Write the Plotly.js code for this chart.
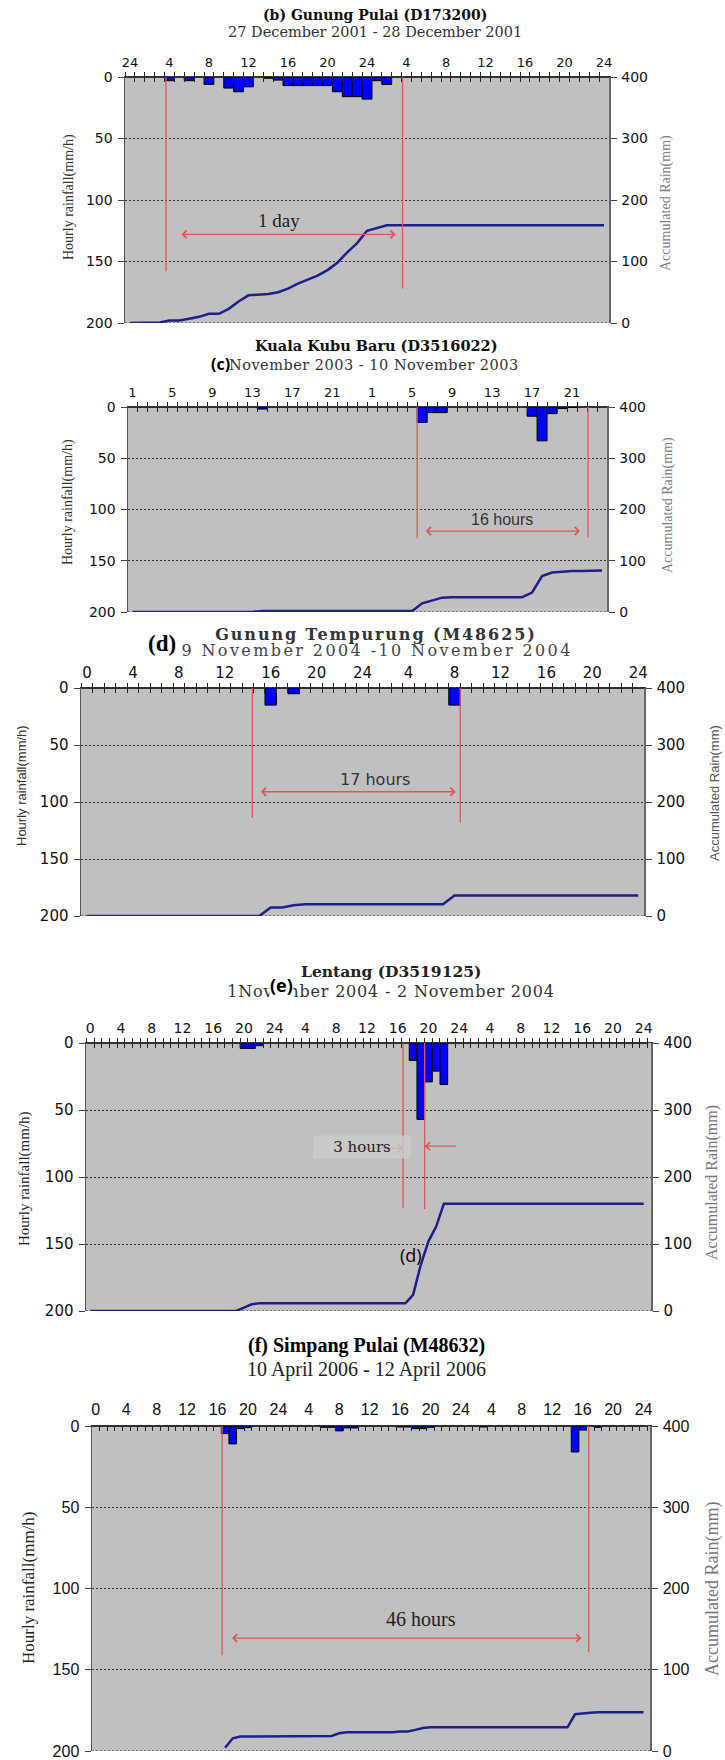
<!DOCTYPE html>
<html><head><meta charset="utf-8">
<script src="https://cdn.plot.ly/plotly-3.0.1.min.js"></script>
<style>
html,body{margin:0;padding:0;background:#fff}
#chart{width:725px;height:1760px}
.annotation[data-index="17"] text{letter-spacing:1.9px}
.annotation[data-index="18"] text{letter-spacing:2.4px}
.annotation[data-index="21"] text{letter-spacing:0.8px}
.annotation[data-index="15"] text{letter-spacing:0.5px}
</style>
</head><body><div id="chart"></div>
<script>
// ===================== DATA =====================
// (b) Gunung Pulai (D173200) — 27-28 Dec 2001, hourly index 0..48
const bTickText = ['24','4','8','12','16','20','24','4','8','12','16','20','24'];
const bRain  = [0,0,0,0,3,0,3,0,6,0,9,12,8,0,1,2.5,7,7,7,7,7,12,16,16,18,3,6,
                0,0,0,0,0,0,0,0,0,0,0,0,0,0,0,0,0,0,0,0,0,0];
const bAccum = [0,0,1,1,4,4,7,10,15,15,23,35,45,46,47,50,56,64,71,77,86,98,115,130,150,154,159,
                159,159,159,159,159,159,159,159,159,159,159,159,159,159,159,159,159,159,159,159,159,159];
const bMarkX = [3.65, 27.6];
const bMarkLen = [158, 172];
const bSpan = [5.06, 26.9, 128];

// (c) Kuala Kubu Baru (D3516022) — 9-10 Nov 2003, hourly index 0..47
const cTickText = ['1','5','9','13','17','21','1','5','9','13','17','21'];
const cRain  = [0,0,0,0,0,0,0,0,0,0,0,0,0,2,0,0,0,0,0,0,0,0,0,0,0,0,0,0,0,
                15,5.5,5.5,0,0,0,0,0,0,0,0,9,33,6.5,1.5,0.5,0,0,0];
const cAccum = [0,0,0,0,0,0,0,0,0,0,0,0,0,2,2,2,2,2,2,2,2,2,2,2,2,2,2,2,2,
                17,23,28,29,29,29,29,29,29,29,29,38,70,77,79,80,80,81,81];
const cMarkX = [28.5, 45.6];
const cMarkLen = [128, 127];
const cSpan = [29.2, 44.8, 121];

// (d) Gunung Tempurung (M48625) — 9-10 Nov 2004, hourly index 0..48
const dTickText = ['0','4','8','12','16','20','24','4','8','12','16','20','24'];
const dRain  = [0,0,0,0,0,0,0,0,0,0,0,0,0,0,0,0,15,0,5,0,0,0,0,0,0,0,0,0,0,0,0,0,15,
                0,0,0,0,0,0,0,0,0,0,0,0,0,0,0,0];
const dAccum = [0,0,0,0,0,0,0,0,0,0,0,0,0,0,0,0,15,15,19,20.5,20.5,20.5,20.5,20.5,20.5,20.5,20.5,20.5,20.5,20.5,20.5,20.5,36,
                36,36,36,36,36,36,36,36,36,36,36,36,36,36,36,36];
const dMarkX = [14.4, 32.5];
const dMarkLen = [114, 118];
const dSpan = [15.0, 32.1, 91];

// (e) Lentang (D3519125) — 1-2 Nov 2004, hourly index 0..72
const eTickText = ['0','4','8','12','16','20','24','4','8','12','16','20','24','4','8','12','16','20','24'];
const eRain  = [0,0,0,0,0,0,0,0,0,0,0,0,0,0,0,0,0,0,0,0,4,4,2,0,0,0,0,0,0,0,0,0,0,0,0,0,0,0,0,0,0,0,
                13,57,29,21,31,0,0,0,0,0,0,0,0,0,0,0,0,0,0,0,0,0,0,0,0,0,0,0,0,0,0];
const eAccum = [0,0,0,0,0,0,0,0,0,0,0,0,0,0,0,0,0,0,0,0,5,10,11.5,11.5,11.5,11.5,11.5,11.5,11.5,11.5,11.5,11.5,
                11.5,11.5,11.5,11.5,11.5,11.5,11.5,11.5,11.5,11.5,24,69,104,126,160,160,160,160,160,160,160,160,
                160,160,160,160,160,160,160,160,160,160,160,160,160,160,160,160,160,160,160];
const eMarkX = [40.7, 43.5];
const eMarkLen = [123, 124];
const eArrowL = [33.1, 40.7, 78.7];
const eArrowR = [47.8, 43.5, 77];

// (f) Simpang Pulai (M48632) — 10-12 Apr 2006, hourly index 0..72
const fTickText = ['0','4','8','12','16','20','24','4','8','12','16','20','24','4','8','12','16','20','24'];
const fRain  = [0,0,0,0,0,0,0,0,0,0,0,0,0,0,0,0,0,4.7,11,1.6,1,0,0,0,0,0,0,0,0,0,0.8,0.8,3,1.2,1.2,0,0,0,0,0,
                0.6,0.6,1.6,1.6,0.8,0,0,0,0,0,0,0.6,0,0,0,0,0,0,0,0,0,0,0,16,2.5,0,0.8,0,0,0,0,0,0];
const fAccum = [null,null,null,null,null,null,null,null,null,null,null,null,null,null,null,null,null,
                4,15.6,17.7,17.7,17.7,17.7,17.7,17.7,17.7,17.7,17.7,17.7,17.7,17.7,18.5,21.8,23,23,23,23,23,23,23,
                24,24,26,28.4,29.2,29.2,29.2,29.2,29.2,29.2,29.2,29.2,29.2,29.2,29.2,29.2,29.2,29.2,29.2,29.2,29.2,29.2,29.2,
                45.2,46.5,47,47.7,47.7,47.7,47.7,47.7,47.7,47.7];
const fMarkX = [16.6, 64.8];
const fMarkLen = [141, 139];
const fSpan = [17.7, 63.85, 130.5];

const leftTicks = [0,50,100,150,200];
const rightTicks = [0,100,200,300,400];

// ===================== LAYOUT HELPERS =====================
const W = 725, H = 1760;
const px = v => v / W;
const py = v => 1 - v / H;
const RED = '#d65a5a';
const idx = arr => arr.map((_, i) => i);
const halfs = (a, b) => { const r = []; for (let v = Math.ceil(a - 0.5) + 0.5; v < b; v += 1) r.push(v); return r; };

const panels = [
  {rain:bRain, accum:bAccum, tickText:bTickText, box:[125,609,77,323], xr:[-0.5,48.5],
   xfont:{family:'DejaVu Sans', size:13, color:'#111'}, yfont:{family:'DejaVu Sans', size:14, color:'#111'},
   cross:true, mark:[bMarkX,bMarkLen]},
  {rain:cRain, accum:cAccum, tickText:cTickText, box:[128,607,407,612], xr:[-0.45,47.5],
   xfont:{family:'DejaVu Sans', size:13, color:'#111'}, yfont:{family:'DejaVu Sans', size:14, color:'#111'},
   cross:true, mark:[cMarkX,cMarkLen]},
  {rain:dRain, accum:dAccum, tickText:dTickText, box:[81,644,688,916], xr:[-0.52,48.5],
   xfont:{family:'DejaVu Sans', size:15, color:'#111'}, yfont:{family:'DejaVu Sans', size:15, color:'#111'},
   cross:true, mark:[dMarkX,dMarkLen]},
  {rain:eRain, accum:eAccum, tickText:eTickText, box:[86,651,1043,1311], xr:[-0.55,72.95],
   xfont:{family:'DejaVu Sans', size:14, color:'#111'}, yfont:{family:'DejaVu Sans', size:15, color:'#111'},
   cross:true, mark:[eMarkX,eMarkLen]},
  {rain:fRain, accum:fAccum, tickText:fTickText, box:[92,650,1426,1751], xr:[-0.5,72.85],
   xfont:{family:'Liberation Sans', size:16, color:'#111'}, yfont:{family:'Liberation Sans', size:16, color:'#111'},
   cross:false, mark:[fMarkX,fMarkLen]}
];

const data = [];
const layout = {
  width: W, height: H, margin:{l:0,r:0,t:0,b:0},
  paper_bgcolor:'#ffffff', plot_bgcolor:'#c0c0c0',
  showlegend:false, bargap:0, barmode:'overlay',
  shapes:[], annotations:[]
};

panels.forEach((p, i) => {
  const k = i + 1;
  const xa = k === 1 ? 'x' : 'x' + k;
  const ya = k === 1 ? 'y' : 'y' + k;
  const yr = 'y' + (k + 5);
  const xo = 'x' + (k + 5);
  const xi = 'x' + (k + 10);
  const [L, R, T, B] = p.box;
  const dx = [px(L), px(R)], dy = [py(B), py(T)];
  const hours = idx(p.rain);
  const tickPos = p.tickText.map((_, j) => j * 4);
  const hv = halfs(p.xr[0], p.xr[1]);

  layout[k === 1 ? 'xaxis' : 'xaxis' + k] = {
    domain: dx, anchor: ya, side: 'top', range: p.xr, autorange: false,
    tickmode: 'array', tickvals: tickPos, ticktext: p.tickText, ticks: '',
    ticklabelstandoff: 3, tickfont: p.xfont,
    showline: true, linecolor: '#333', linewidth: 1.5, showgrid: false, zeroline: false, fixedrange: true
  };
  layout['xaxis' + (k + 10)] = {
    overlaying: xa, anchor: ya, side: 'top', range: p.xr, autorange: false,
    tickmode: 'array', tickvals: hv, ticks: 'inside', ticklen: 5, tickwidth: 1, tickcolor: '#222',
    showticklabels: false, showline: false, showgrid: false, zeroline: false
  };
  if (p.cross) {
    layout['xaxis' + (k + 5)] = {
      overlaying: xa, anchor: ya, side: 'top', range: p.xr, autorange: false,
      tickmode: 'array', tickvals: hv, ticks: 'outside', ticklen: 4, tickwidth: 1, tickcolor: '#222',
      showticklabels: false, showline: false, showgrid: false, zeroline: false
    };
  }
  layout[k === 1 ? 'yaxis' : 'yaxis' + k] = {
    domain: dy, anchor: xa, range: [200, 0], autorange: false,
    tickmode: 'array', tickvals: leftTicks, ticks: 'outside', ticklen: 6, tickcolor: '#444',
    tickfont: p.yfont, ticklabelstandoff: 2,
    showline: true, linecolor: '#555', linewidth: 1.5,
    showgrid: true, gridcolor: '#333', gridwidth: 1, griddash: '2px,2px', zeroline: false
  };
  layout['yaxis' + (k + 5)] = {
    overlaying: ya, anchor: xa, side: 'right', range: [0, 400], autorange: false,
    tickmode: 'array', tickvals: rightTicks, ticks: 'outside', ticklen: 6, tickcolor: '#444',
    tickfont: p.yfont, ticklabelstandoff: 2,
    showline: true, linecolor: '#666', linewidth: 1.5, showgrid: false, zeroline: false
  };

  data.push({type:'bar', x:hours, y:p.rain, xaxis:xa, yaxis:ya, width:1,
             marker:{color:'#0000ff', line:{color:'#000', width:1}}, hoverinfo:'skip'});
  data.push({type:'scatter', mode:'lines', x:hours, y:p.accum, xaxis:xa, yaxis:yr,
             line:{color:'#1f1f8a', width:2.5}, hoverinfo:'skip'});
  data.push({type:'scatter', mode:'lines', x:[null], y:[null], xaxis:xi, yaxis:ya, hoverinfo:'skip'});
  if (p.cross) data.push({type:'scatter', mode:'lines', x:[null], y:[null], xaxis:xo, yaxis:ya, hoverinfo:'skip'});

  // bottom dotted frame line
  layout.shapes.push({type:'line', xref:xa+' domain', yref:ya, x0:0, x1:1, y0:200, y1:200,
                      line:{color:'#333', width:1, dash:'2px,2px'}});
  // red event marker lines
  p.mark[0].forEach((mx, j) => {
    layout.shapes.push({type:'line', xref:xa, yref:ya, x0:mx, x1:mx, y0:0, y1:p.mark[1][j],
                        line:{color:RED, width:1.3}});
  });
  p.xa = xa; p.ya = ya;
});

function arrow(p, x0, x1, y, both) {
  layout.annotations.push({xref:p.xa, yref:p.ya, axref:p.xa, ayref:p.ya, x:x1, y:y, ax:x0, ay:y,
    text:'', showarrow:true, arrowhead:4, startarrowhead:4, arrowside: both ? 'end+start' : 'end',
    arrowsize:1.2, startarrowsize:1.2, arrowwidth:1.3, arrowcolor:RED, standoff:0, startstandoff:0});
}
function dtext(p, t, x, y, font, extra) {
  layout.annotations.push(Object.assign({xref:p.xa, yref:p.ya, x:x, y:y, text:t, showarrow:false, font:font}, extra || {}));
}
function ptext(t, x, y, font, extra) {
  layout.annotations.push(Object.assign({xref:'paper', yref:'paper', x:px(x), y:py(y), text:t, showarrow:false,
    xanchor:'center', yanchor:'middle', font:font}, extra || {}));
}

const [pb, pc, pd, pe, pf] = panels;
// annotations 0-5: arrows
arrow(pb, bSpan[0], bSpan[1], bSpan[2], true);
arrow(pc, cSpan[0], cSpan[1], cSpan[2], true);
arrow(pd, dSpan[0], dSpan[1], dSpan[2], true);
arrow(pe, eArrowL[0], eArrowL[1], eArrowL[2], false);
arrow(pe, eArrowR[0], eArrowR[1], eArrowR[2], false);
arrow(pf, fSpan[0], fSpan[1], fSpan[2], true);

// annotations 6-11: in-plot labels
dtext(pb, '1 day', 15.1, 117, {family:'Liberation Serif', size:19, color:'#222'});
dtext(pc, '16 hours', 36.95, 110, {family:'Liberation Sans', size:16, color:'#333'});
dtext(pd, '17 hours', 25.05, 80, {family:'DejaVu Sans', size:16, color:'#333'});
dtext(pe, '3 hours', 35.4, 77.5, {family:'DejaVu Serif', size:15, color:'#222'},
      {bgcolor:'rgba(205,205,205,0.75)', width:94, height:20});
dtext(pe, '(d)', 41.7, 158, {family:'Open Sans', size:18, color:'#000'});
dtext(pf, '46 hours', 42.7, 118.8, {family:'Liberation Serif', size:20, color:'#222'});

// annotations 12-24: titles
const SERIF = 'DejaVu Serif';
ptext('(b) Gunung Pulai (D173200)', 375, 15, {family:SERIF, size:14, weight:700, color:'#111'});          // 12
ptext('27 December 2001 - 28 December 2001', 375, 32, {family:SERIF, size:14.5, color:'#333'});          // 13

ptext('Kuala Kubu Baru (D3516022)', 376, 346, {family:SERIF, size:14.5, weight:700, color:'#111'});        // 14
ptext('November 2003 - 10 November 2003', 235, 365, {family:SERIF, size:14.5, color:'#333'}, {xanchor:'left'}); // 15
ptext('(c)', 232, 364, {family:'Open Sans', size:16, weight:700, color:'#000'}, {xanchor:'right'});       // 16

ptext('Gunung Tempurung (M48625)', 376, 634, {family:SERIF, size:16, weight:700, color:'#333'});          // 17
ptext('9 November 2004 -10 November 2004', 377, 650, {family:SERIF, size:16, color:'#444'});             // 18
ptext('(d)', 162, 643, {family:'Liberation Serif', size:23, weight:700, color:'#000'});                   // 19

ptext('Lentang (D3519125)', 391, 971, {family:SERIF, size:15.5, weight:700, color:'#222'});               // 20
ptext('1November 2004 - 2 November 2004', 391, 992, {family:SERIF, size:16, color:'#333'});              // 21
ptext('(e)', 281, 985, {family:'Open Sans', size:18, weight:700, color:'#000'}, {bgcolor:'#ffffff', borderpad:0}); // 22

ptext('(f) Simpang Pulai (M48632)', 366, 1345, {family:'Liberation Serif', size:20, weight:700, color:'#000'}); // 23
ptext('10 April 2006 - 12 April 2006', 366, 1369, {family:'Liberation Serif', size:20, color:'#222'});    // 24

// Axis titles
const rot = {textangle:-90};
ptext('Hourly rainfall(mm/h)', 69, 197, {family:'Liberation Serif', size:14, color:'#333'}, rot);
ptext('Accumulated Rain(mm)', 666, 203, {family:'Liberation Serif', size:14, color:'#808080'}, rot);
ptext('Hourly rainfall(mm/h)', 68, 502, {family:'Liberation Serif', size:14, color:'#333'}, rot);
ptext('Accumulated Rain(mm)', 668, 505, {family:'Liberation Serif', size:14, color:'#808080'}, rot);
ptext('Hourly rainfall(mm/h)', 22, 786, {family:'Liberation Sans Narrow, Liberation Sans', size:13, color:'#333'}, rot);
ptext('Accumulated Rain(mm)', 714, 793, {family:'Liberation Sans Narrow, Liberation Sans', size:13, color:'#555'}, rot);
ptext('Hourly rainfall(mm/h)', 24, 1179, {family:'Liberation Serif', size:15, color:'#222'}, rot);
ptext('Accumulated Rain(mm)', 712, 1183, {family:'Liberation Serif', size:16, color:'#777'}, rot);
ptext('Hourly rainfall(mm/h)', 28, 1588, {family:'Liberation Serif', size:17, color:'#222'}, rot);
ptext('Accumulated Rain(mm)', 712, 1589, {family:'Liberation Serif', size:18, color:'#777'}, rot);

Plotly.newPlot('chart', data, layout, {staticPlot:true, displayModeBar:false});
</script></body></html>
